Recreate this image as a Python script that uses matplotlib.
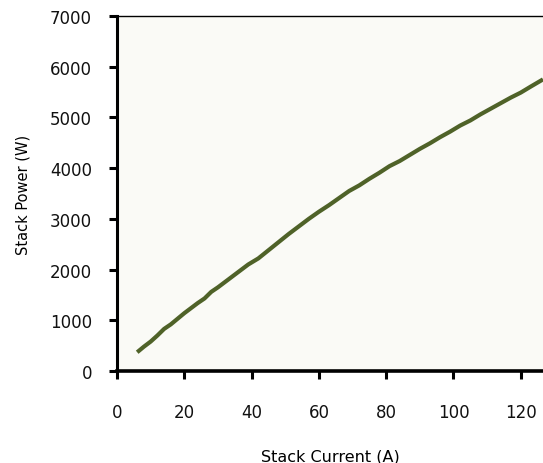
import matplotlib
matplotlib.use("Agg")
import matplotlib.pyplot as plt

# Fuel-cell stack polarization: current (A) vs delivered power (W)
stack_current = [6, 8, 10, 12, 14, 16, 18, 20, 22, 24, 26, 28, 30, 33, 36, 39,
                 42, 45, 48, 51, 54, 57, 60, 63, 66, 69, 72, 75, 78, 81, 84,
                 87, 90, 93, 96, 99, 102, 105, 108, 111, 114, 117, 120, 123, 126.6]
stack_power = [370, 480, 580, 700, 830, 920, 1030, 1140, 1240, 1340, 1430, 1560,
               1650, 1800, 1950, 2100, 2220, 2380, 2540, 2700, 2850, 3000, 3140,
               3270, 3410, 3550, 3660, 3790, 3910, 4040, 4140, 4260, 4380, 4490,
               4610, 4720, 4840, 4940, 5060, 5170, 5280, 5390, 5490, 5610, 5750]

x_ticks = [0, 20, 40, 60, 80, 100, 120]
y_ticks = [0, 1000, 2000, 3000, 4000, 5000, 6000, 7000]

fig = plt.figure(figsize=(5.43, 4.64), dpi=100)
ax = fig.add_axes([117 / 543, 1 - 372 / 464, 1 - 117 / 543, (372 - 17) / 464])
ax.set_facecolor("#fafaf6")

ax.plot(stack_current, stack_power, color="#4f6228", linewidth=3.0,
        solid_capstyle="butt")

ax.set_xlim(0, 126.6)
ax.set_ylim(0, 7000)
ax.set_xticks(x_ticks)
ax.set_yticks(y_ticks)

ax.spines["right"].set_visible(False)
ax.spines["top"].set_linewidth(1.0)
ax.spines["left"].set_linewidth(2.2)
ax.spines["bottom"].set_linewidth(2.6)

ax.tick_params(axis="y", direction="out", length=6, width=2.2, pad=12,
               labelsize=12, labelcolor="#111111")
ax.tick_params(axis="x", direction="out", length=6, width=2.2, pad=17,
               labelsize=12, labelcolor="#111111")

ax.set_xlabel("Stack Current (A)", fontsize=11.5, labelpad=20)
ax.set_ylabel("Stack Power (W)", fontsize=10.5, labelpad=14)

fig.savefig("out.png", dpi=100, facecolor="white")
